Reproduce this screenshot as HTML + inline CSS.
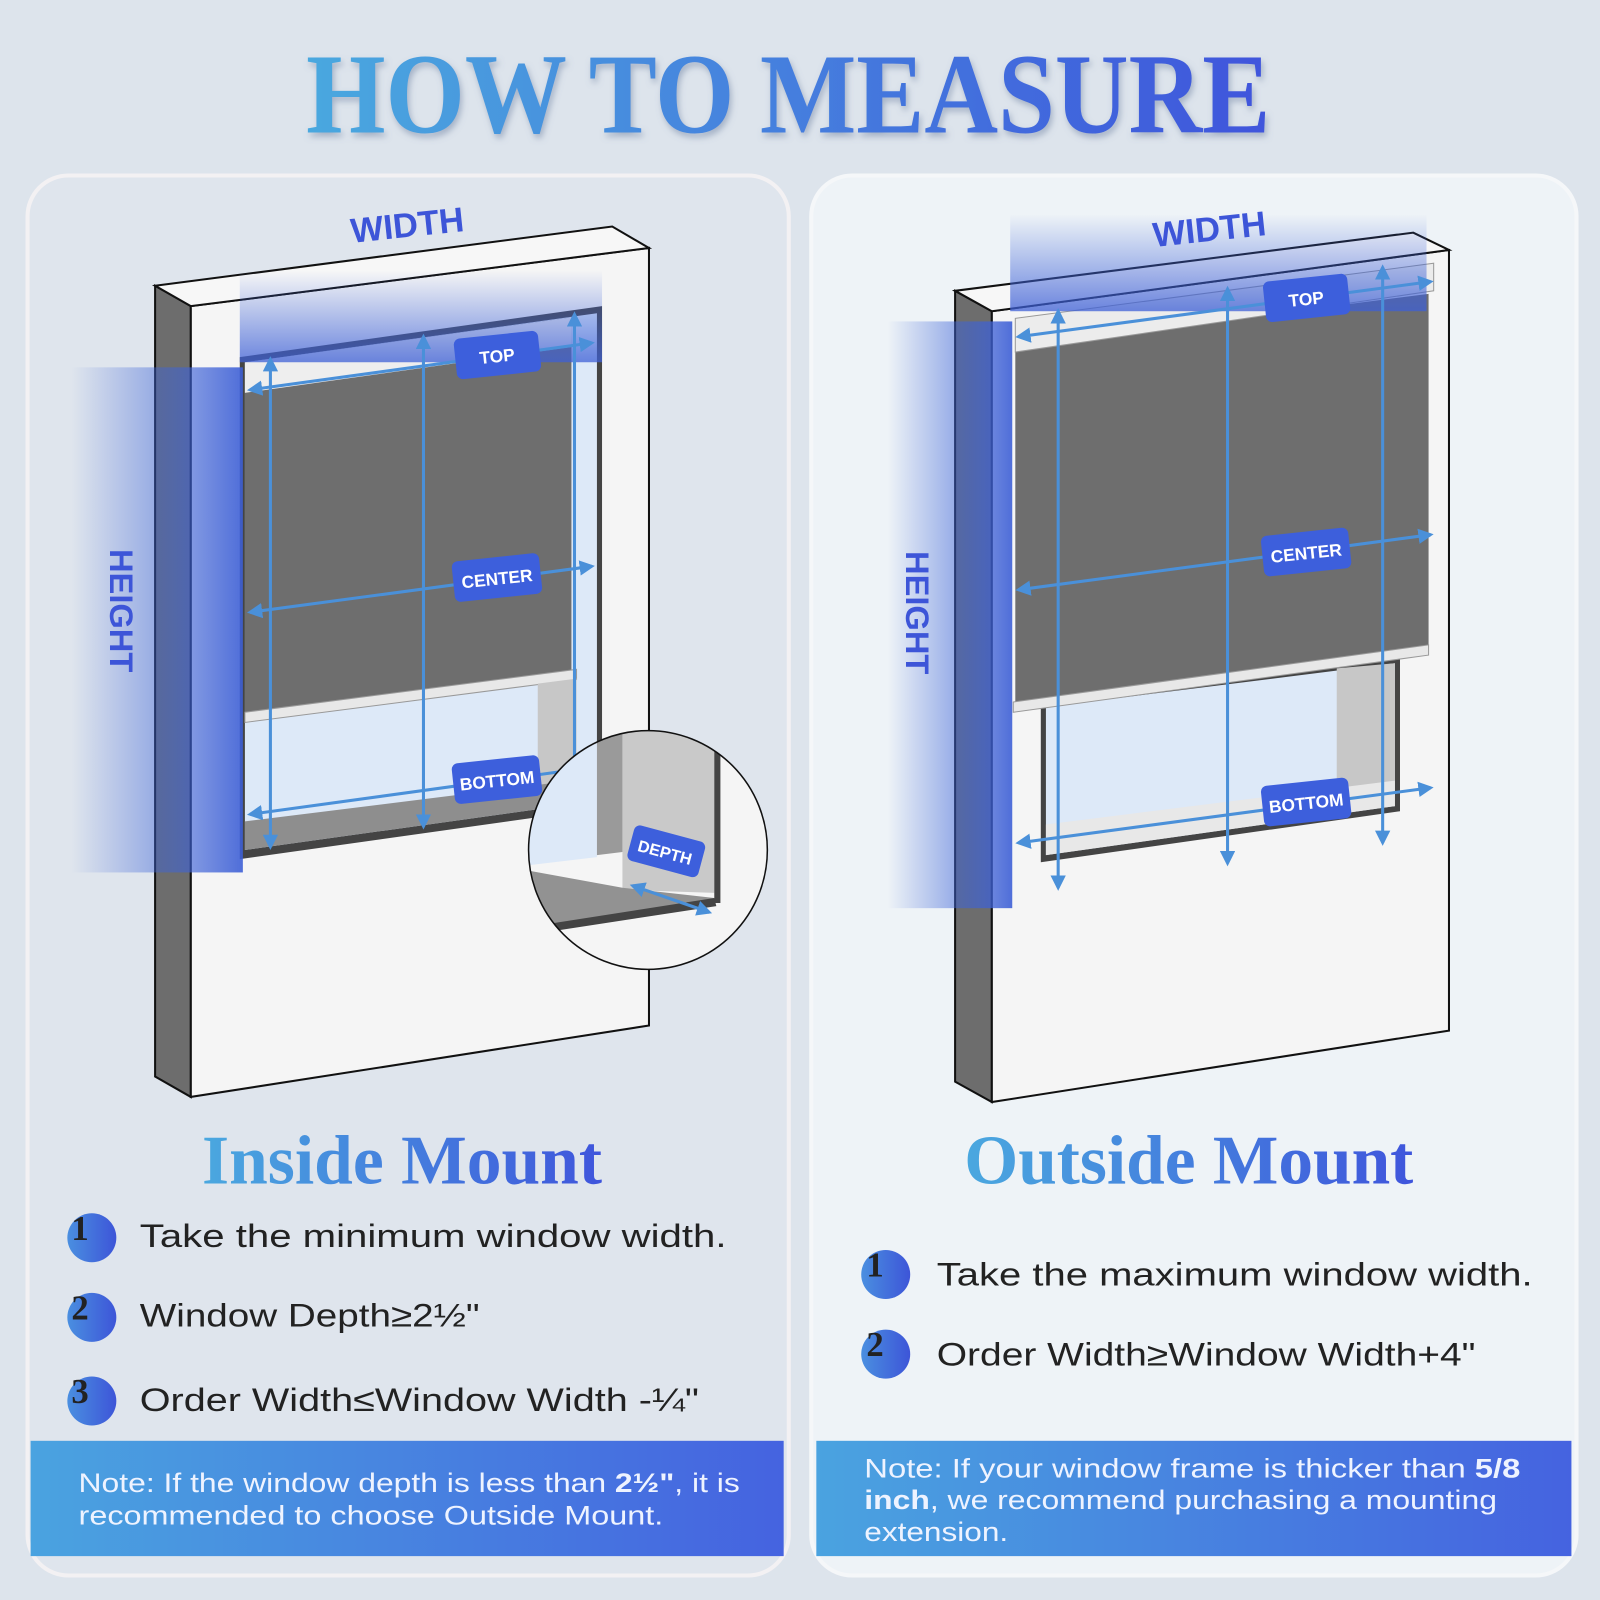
<!DOCTYPE html>
<html><head><meta charset="utf-8"><style>
html,body{margin:0;padding:0;background:#dde4ec;}
svg{display:block}
</style></head><body>
<svg width="1600" height="1600" viewBox="0 0 1568 1568" xmlns="http://www.w3.org/2000/svg">
<defs>
<linearGradient id="tg" x1="0" x2="1" y1="0" y2="0"><stop offset="0" stop-color="#4aa8df"/><stop offset="1" stop-color="#3f55dc"/></linearGradient>
<linearGradient id="nb" x1="0" x2="1" y1="0" y2="0"><stop offset="0" stop-color="#4aa3e0"/><stop offset="1" stop-color="#4563e0"/></linearGradient>
<linearGradient id="hv" x1="0" x2="1"><stop offset="0" stop-color="#3d64d8" stop-opacity="0"/><stop offset="0.5" stop-color="#3d64d8" stop-opacity="0.45"/><stop offset="1" stop-color="#3d5fd6" stop-opacity="0.9"/></linearGradient>
<linearGradient id="wv" x1="0" x2="0" y1="0" y2="1"><stop offset="0" stop-color="#3d64d8" stop-opacity="0"/><stop offset="1" stop-color="#3d5fd6" stop-opacity="0.75"/></linearGradient>
<linearGradient id="cb" x1="0" x2="1"><stop offset="0" stop-color="#4a8fe0"/><stop offset="1" stop-color="#3d55d8"/></linearGradient>
<filter id="sh"><feDropShadow dx="2" dy="4" stdDeviation="3" flood-color="#6a7fa0" flood-opacity="0.5"/></filter>
<marker id="ar" viewBox="0 0 10 10" refX="8" refY="5" markerWidth="5" markerHeight="5" orient="auto-start-reverse"><path d="M0,0L10,5L0,10z" fill="#4a90d9"/></marker>
</defs>
<rect width="1568" height="1568" fill="#dde4ec"/>
<text x="300" y="130" font-family="Liberation Serif, serif" font-weight="bold" font-size="112" fill="url(#tg)" textLength="945" lengthAdjust="spacingAndGlyphs" filter="url(#sh)">HOW TO MEASURE</text>

<rect x="27" y="172" width="746" height="1372" rx="40" fill="#dfe5ed" stroke="#f3f1f3" stroke-width="4"/>
<rect x="795" y="172" width="750" height="1372" rx="40" fill="#eef3f7" stroke="#f5f7f9" stroke-width="4"/>

<!-- LEFT DIAGRAM -->
<polygon points="152,280 187,300 187,1075 152,1055" fill="#6d6d6d" stroke="#111" stroke-width="2"/>
<polygon points="187,300 636,243 636,1005 187,1075" fill="#f5f5f5" stroke="#111" stroke-width="2"/>
<polygon points="152,280 600,222 636,243 187,300" fill="#f7f7f7" stroke="#111" stroke-width="2"/>
<polygon points="235,350 590,300 590,792 235,842" fill="#444"/>
<polygon points="240,355 585,307 585,785 240,833" fill="#dde9f8"/>
<polygon points="240,355 560,311 560,660 240,700" fill="#6e6e6e"/>
<polygon points="240,355 560,311 560,340 240,385" fill="#eeeeee"/>
<polygon points="240,698 565,656 565,666 240,708" fill="#e8e8e8" stroke="#999"/>
<polygon points="527,670 565,665 565,780 527,785" fill="#c7c7c7"/>
<polygon points="240,805 585,762 585,785 240,833" fill="#8e8e8e"/>
<rect x="235" y="265" width="355" height="90" fill="url(#wv)"/>
<rect x="70" y="360" width="168" height="495" fill="url(#hv)"/>
<g stroke="#4a90d9" stroke-width="3" marker-start="url(#ar)" marker-end="url(#ar)">
<line x1="245" y1="382" x2="580" y2="336"/>
<line x1="245" y1="600" x2="580" y2="555"/>
<line x1="245" y1="798" x2="580" y2="752"/>
<line x1="265" y1="352" x2="265" y2="830"/>
<line x1="415" y1="330" x2="415" y2="810"/>
<line x1="563" y1="308" x2="563" y2="780"/>
</g>
<g font-family="Liberation Sans, sans-serif" font-weight="bold" fill="#fff" font-size="17">
<g transform="rotate(-6 487 348)"><rect x="446" y="328" width="83" height="40" rx="6" fill="#3d5fdc"/><text x="487" y="355" text-anchor="middle">TOP</text></g>
<g transform="rotate(-6 487 566)"><rect x="444" y="546" width="86" height="40" rx="6" fill="#3d5fdc"/><text x="487" y="573" text-anchor="middle">CENTER</text></g>
<g transform="rotate(-6 487 764)"><rect x="444" y="744" width="86" height="40" rx="6" fill="#3d5fdc"/><text x="487" y="771" text-anchor="middle">BOTTOM</text></g>
</g>
<text transform="translate(108,538) rotate(90)" font-family="Liberation Sans, sans-serif" font-weight="bold" font-size="32" fill="#3d55d8">HEIGHT</text>
<text transform="translate(345,238) rotate(-6)" font-family="Liberation Sans, sans-serif" font-weight="bold" font-size="34" fill="#3d55d8">WIDTH</text>
<clipPath id="cc"><circle cx="635" cy="833" r="117"/></clipPath>
<circle cx="635" cy="833" r="117" fill="#f5f5f5"/>
<g clip-path="url(#cc)">
<polygon points="500,700 585,690 585,840 500,850" fill="#dde9f8"/>
<polygon points="585,690 610,688 610,835 585,838" fill="#9a9a9a"/>
<polygon points="610,690 700,690 700,875 610,872" fill="#c9c9c9"/>
<polygon points="700,690 706,690 706,885 700,885" fill="#444"/>
<polygon points="500,850 610,870 700,880 700,885 540,910 500,912" fill="#929292"/>
<polygon points="540,905 700,880 702,888 545,912" fill="#444"/>
<line x1="620" y1="868" x2="695" y2="894" stroke="#4a90d9" stroke-width="3" marker-start="url(#ar)" marker-end="url(#ar)"/>
<g transform="rotate(15 652 834)"><rect x="617" y="816" width="72" height="36" rx="6" fill="#3d5fdc"/><text x="652" y="841" text-anchor="middle" font-family="Liberation Sans, sans-serif" font-weight="bold" font-size="16" fill="#fff">DEPTH</text></g>
</g>
<circle cx="635" cy="833" r="117" fill="none" stroke="#111" stroke-width="1.5"/>

<!-- RIGHT DIAGRAM -->
<polygon points="936,285 972,305 972,1080 936,1060" fill="#6d6d6d" stroke="#111" stroke-width="2"/>
<polygon points="972,305 1420,245 1420,1010 972,1080" fill="#f5f5f5" stroke="#111" stroke-width="2"/>
<polygon points="936,285 1385,228 1420,245 972,305" fill="#f7f7f7" stroke="#111" stroke-width="2"/>
<polygon points="1020,690 1372,645 1372,795 1020,845" fill="#444"/>
<polygon points="1025,693 1367,650 1367,790 1025,838" fill="#dde9f8"/>
<polygon points="1310,655 1367,650 1367,790 1310,795" fill="#c7c7c7"/>
<polygon points="1025,808 1367,765 1367,790 1025,838" fill="#e8e8e8"/>
<polygon points="995,340 1400,288 1400,635 995,688" fill="#6e6e6e"/>
<polygon points="993,688 1400,632 1400,642 993,698" fill="#e8e8e8" stroke="#999"/>
<polygon points="995,312 1405,258 1405,285 995,345" fill="#ececec" stroke="#999"/>
<rect x="990" y="210" width="408" height="95" fill="url(#wv)"/>
<rect x="870" y="315" width="122" height="575" fill="url(#hv)"/>
<g stroke="#4a90d9" stroke-width="3" marker-start="url(#ar)" marker-end="url(#ar)">
<line x1="998" y1="330" x2="1402" y2="276"/>
<line x1="998" y1="578" x2="1402" y2="524"/>
<line x1="998" y1="826" x2="1402" y2="772"/>
<line x1="1037" y1="305" x2="1037" y2="870"/>
<line x1="1203" y1="283" x2="1203" y2="846"/>
<line x1="1355" y1="262" x2="1355" y2="826"/>
</g>
<g font-family="Liberation Sans, sans-serif" font-weight="bold" fill="#fff" font-size="17">
<g transform="rotate(-6 1280 292)"><rect x="1239" y="272" width="83" height="40" rx="6" fill="#3d5fdc"/><text x="1280" y="299" text-anchor="middle">TOP</text></g>
<g transform="rotate(-6 1280 541)"><rect x="1237" y="521" width="86" height="40" rx="6" fill="#3d5fdc"/><text x="1280" y="548" text-anchor="middle">CENTER</text></g>
<g transform="rotate(-6 1280 786)"><rect x="1237" y="766" width="86" height="40" rx="6" fill="#3d5fdc"/><text x="1280" y="793" text-anchor="middle">BOTTOM</text></g>
</g>
<text transform="translate(888,540) rotate(90)" font-family="Liberation Sans, sans-serif" font-weight="bold" font-size="32" fill="#3d55d8">HEIGHT</text>
<text transform="translate(1131,242) rotate(-6)" font-family="Liberation Sans, sans-serif" font-weight="bold" font-size="34" fill="#3d55d8">WIDTH</text>

<text x="198" y="1160" font-family="Liberation Serif, serif" font-weight="bold" font-size="68" fill="url(#tg)" textLength="392" lengthAdjust="spacingAndGlyphs">Inside Mount</text>
<text x="945" y="1160" font-family="Liberation Serif, serif" font-weight="bold" font-size="68" fill="url(#tg)" textLength="440" lengthAdjust="spacingAndGlyphs">Outside Mount</text>

<g font-family="Liberation Sans, sans-serif" font-size="32" fill="#222">
<circle cx="90" cy="1213" r="24" fill="url(#cb)"/><text x="70" y="1215" font-family="Liberation Serif, serif" font-weight="bold" font-size="34">1</text>
<text x="137" y="1222" textLength="575" lengthAdjust="spacingAndGlyphs">Take the minimum window width.</text>
<circle cx="90" cy="1291" r="24" fill="url(#cb)"/><text x="70" y="1293" font-family="Liberation Serif, serif" font-weight="bold" font-size="34">2</text>
<text x="137" y="1300" textLength="333" lengthAdjust="spacingAndGlyphs">Window Depth≥2½"</text>
<circle cx="90" cy="1373" r="24" fill="url(#cb)"/><text x="70" y="1375" font-family="Liberation Serif, serif" font-weight="bold" font-size="34">3</text>
<text x="137" y="1383" textLength="548" lengthAdjust="spacingAndGlyphs">Order Width≤Window Width -¼"</text>
<circle cx="868" cy="1249" r="24" fill="url(#cb)"/><text x="849" y="1251" font-family="Liberation Serif, serif" font-weight="bold" font-size="34">1</text>
<text x="918" y="1260" textLength="584" lengthAdjust="spacingAndGlyphs">Take the maximum window width.</text>
<circle cx="868" cy="1327" r="24" fill="url(#cb)"/><text x="849" y="1329" font-family="Liberation Serif, serif" font-weight="bold" font-size="34">2</text>
<text x="918" y="1338" textLength="528" lengthAdjust="spacingAndGlyphs">Order Width≥Window Width+4"</text>
</g>

<rect x="30" y="1412" width="738" height="113" fill="url(#nb)"/>
<rect x="800" y="1412" width="740" height="113" fill="url(#nb)"/>
<g font-family="Liberation Sans, sans-serif" font-size="26" fill="#eef3ff">
<text x="77" y="1462" textLength="648" lengthAdjust="spacingAndGlyphs">Note: If the window depth is less than <tspan font-weight="bold">2½"</tspan>, it is</text>
<text x="77" y="1494" textLength="573" lengthAdjust="spacingAndGlyphs">recommended to choose Outside Mount.</text>
<text x="847" y="1448" textLength="643" lengthAdjust="spacingAndGlyphs">Note: If your window frame is thicker than <tspan font-weight="bold">5/8</tspan></text>
<text x="847" y="1479" textLength="620" lengthAdjust="spacingAndGlyphs"><tspan font-weight="bold">inch</tspan>, we recommend purchasing a mounting</text>
<text x="847" y="1510" textLength="141" lengthAdjust="spacingAndGlyphs">extension.</text>
</g>
</svg>
</body></html>
